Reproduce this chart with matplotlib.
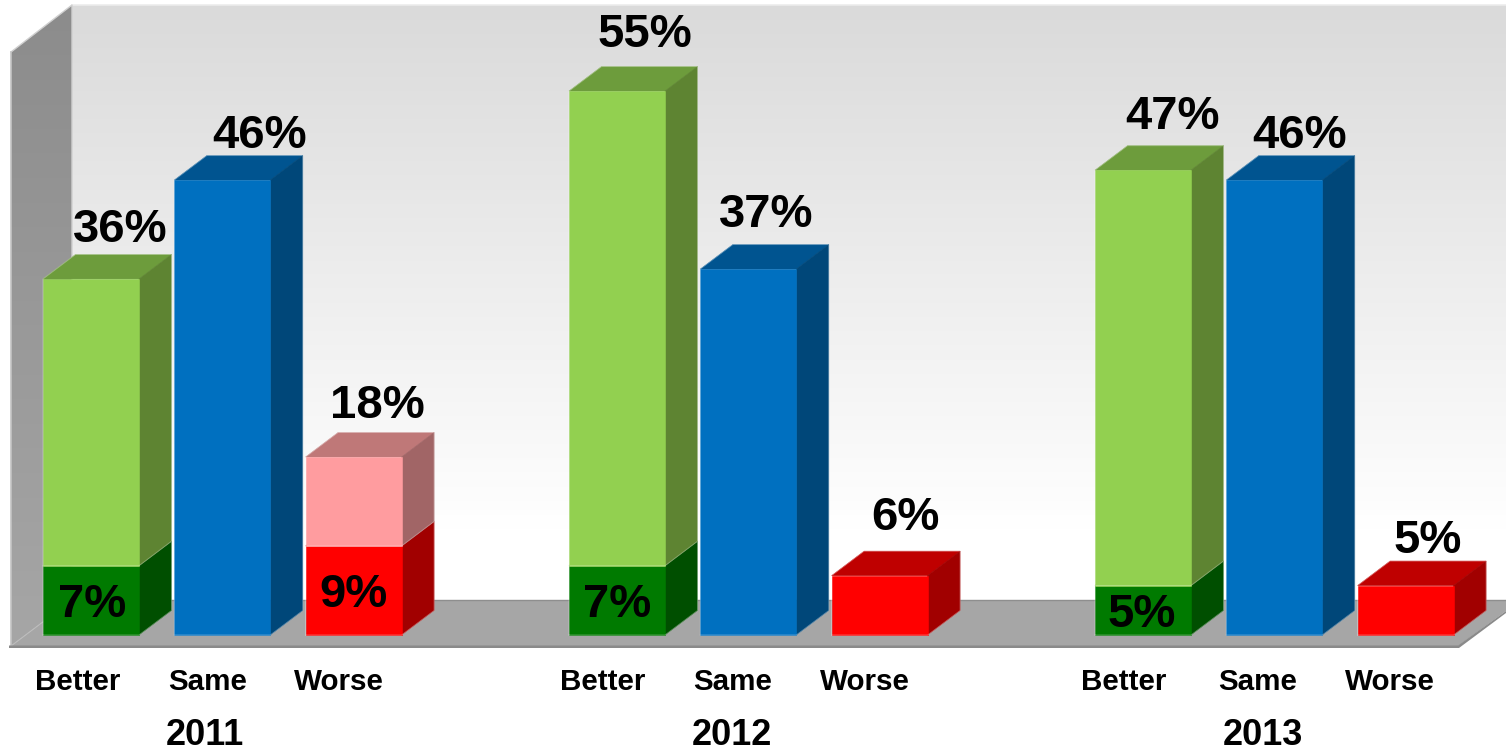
import matplotlib
matplotlib.use('Agg')

import matplotlib.pyplot as plt
import numpy as np
from matplotlib.patches import Polygon

plt.rcParams['font.family'] = ['Liberation Sans', 'DejaVu Sans']

# data
years = ['2011', '2012', '2013']
categories = ['Better', 'Same', 'Worse']
better_total = [36, 55, 47]
better_much = [7, 7, 5]
same = [46, 37, 46]
worse_total = [18, 6, 5]
worse_much = [9, 6, 5]

# layout, in pixels of the 1506x748 picture
W, H = 1506, 748
BASE_Y = 635
PX = 9.89  # pixels per percentage point
BAR_W = 96
DX, DY = 32.5, 24.5
group_x = [43, 569, 1095]
bar_step = 131.3
value_x = [[120, 260, 377], [645, 766, 905], [1173, 1300, 1428]]
value_gap = [[12, 8, 14], [20, 18, 21], [17, 8, 8]]
inner_x = [[92, 354], [617], [1142]]
cat_x = [[78, 208, 339], [603, 733, 865], [1124, 1258, 1390]]
year_x = [205, 732, 1263]

# colours: front, top, side
LIGHT_GREEN = ('#92d050', '#6d9c3c', '#5e8432')
DARK_GREEN = ('#007a00', '#005c00', '#004f00')
BLUE = ('#0070c0', '#005490', '#004779')
RED = ('#ff0000', '#bf0000', '#a10000')
PINK = ('#ff9c9f', '#bf7878', '#a16566')


def py(y_px):
    # picture row -> value on the y axis
    return (BASE_Y - y_px) / PX


def box(ax, x, v0, v1, colors, zorder):
    d = DY / PX
    front, top, side = colors
    ax.add_patch(Polygon([(x, v1), (x + DX, v1 + d), (x + BAR_W + DX, v1 + d), (x + BAR_W, v1)],
                         fc=top, ec=top, lw=0.4, zorder=zorder))
    ax.add_patch(Polygon([(x + BAR_W, v0), (x + BAR_W + DX, v0 + d), (x + BAR_W + DX, v1 + d), (x + BAR_W, v1)],
                         fc=side, ec=side, lw=0.4, zorder=zorder))
    ax.add_patch(Polygon([(x, v0), (x + BAR_W, v0), (x + BAR_W, v1), (x, v1)],
                         fc=front, ec=front, lw=0.4, zorder=zorder))
    # thin light rim round the whole box
    ax.plot([x, x, x + DX, x + BAR_W + DX, x + BAR_W + DX, x + BAR_W, x],
            [v0, v1, v1 + d, v1 + d, v0 + d, v0, v0],
            color='white', lw=0.7, alpha=0.3, zorder=zorder)


def gradient(ax, pts, top_c, bottom_c, x0, x1, y0, y1, zorder):
    grad = np.linspace(0, 1, 256)[:, None, None]
    rgb = np.array(matplotlib.colors.to_rgb(top_c)) * (1 - grad) + np.array(matplotlib.colors.to_rgb(bottom_c)) * grad
    im = ax.imshow(rgb, extent=(x0, x1, py(y1), py(y0)), aspect='auto', origin='upper', zorder=zorder)
    clip = Polygon(pts, transform=ax.transData, fc='none', ec='none')
    ax.add_patch(clip)
    im.set_clip_path(clip)


fig = plt.figure(figsize=(W / 100, H / 100), dpi=100)
ax = fig.add_axes([0, 0, 1, 1])

# chart walls and floor
gradient(ax, [(72, py(5)), (W, py(5)), (W, py(600)), (72, py(600))],
         '#dadada', '#ffffff', 72, W, 5, 530, 1)
ax.add_patch(Polygon([(530, py(530)), (W, py(530)), (W, py(600)), (72, py(600)), (72, py(530))],
                     fc='white', ec='none', zorder=1))
ax.plot([72, W], [py(5), py(5)], color='#ececec', lw=1.2, zorder=2)
gradient(ax, [(11, py(52)), (72, py(5)), (72, py(600)), (11, py(646))],
         '#8c8c8c', '#a6a6a6', 11, 72, 5, 646, 2)
ax.plot([11, 72, 72], [py(52), py(5), py(600)], color='#d0d0d0', lw=1, zorder=2)
ax.plot([11, 11], [py(52), py(646)], color='#c4c4c4', lw=1.2, zorder=2)
ax.add_patch(Polygon([(11, py(646)), (72, py(600)), (W, py(600)), (W, py(611)), (1458, py(646))],
                     fc='#a6a6a6', ec='none', zorder=3))
ax.plot([72, W], [py(600), py(600)], color='#8e8e8e', lw=1, zorder=3)
ax.plot([11, 72], [py(646), py(600)], color='#bcbcbc', lw=0.8, zorder=3)
ax.add_patch(Polygon([(9, py(645.5)), (1458, py(645.5)), (W, py(611)), (W, py(613)), (1459, py(648)), (9, py(648))],
                     fc='#8a8a8a', ec='none', zorder=3))

# bars
for i, gx in enumerate(group_x):
    xs = [gx + j * bar_step for j in range(3)]
    box(ax, xs[0], 0, better_much[i], DARK_GREEN, 5)
    box(ax, xs[0], better_much[i], better_total[i], LIGHT_GREEN, 6)
    box(ax, xs[1], 0, same[i], BLUE, 7)
    box(ax, xs[2], 0, worse_much[i], RED, 8)
    if worse_total[i] > worse_much[i]:
        box(ax, xs[2], worse_much[i], worse_total[i], PINK, 9)

    # value labels above the bars
    tops = [better_total[i], same[i], worse_total[i]]
    for j, v in enumerate(tops):
        ax.text(value_x[i][j], v + (DY + value_gap[i][j]) / PX, f'{v}%', ha='center', va='baseline',
                fontsize=34, fontweight='bold', color='black', zorder=12)

    # category and year labels
    for j, c in enumerate(categories):
        ax.text(cat_x[i][j], py(690), c, ha='center', va='baseline', fontsize=21.3,
                fontweight='bold', color='black', zorder=12)
    ax.text(year_x[i], py(745), years[i], ha='center', va='baseline', fontsize=26,
            fontweight='bold', color='black', zorder=12)

# labels inside the dark segments
inner_vals = [[better_much[0], worse_much[0]], [better_much[1]], [better_much[2]]]
inner_y = [[617, 607], [617], [627]]
for i in range(3):
    for j, v in enumerate(inner_vals[i]):
        ax.text(inner_x[i][j], py(inner_y[i][j]), f'{v}%', ha='center', va='baseline',
                fontsize=34, fontweight='bold', color='black', zorder=12)

ax.set_xlim(0, W)
ax.set_ylim(py(H), py(0))
ax.axis('off')

fig.savefig('out.png', dpi=100, facecolor='white')
plt.close(fig)
